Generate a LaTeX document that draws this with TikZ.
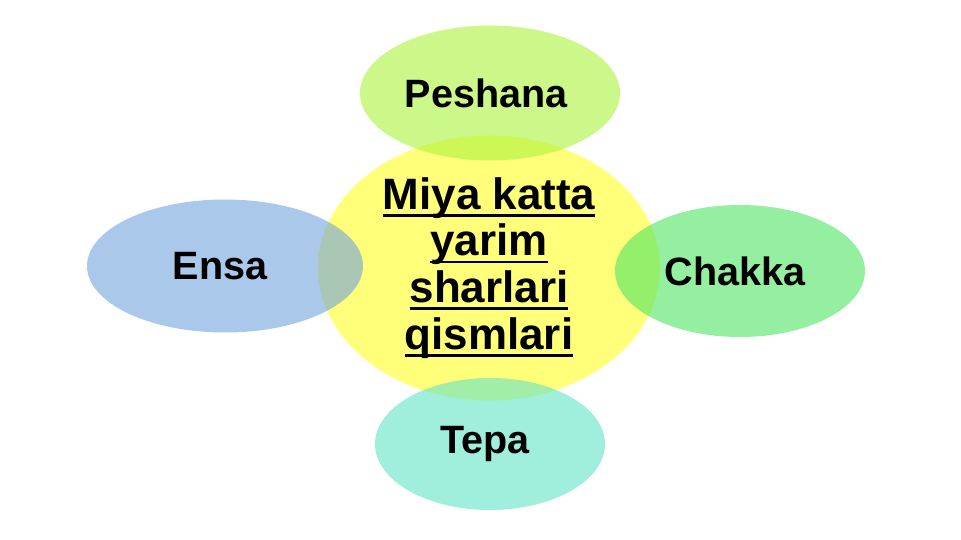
\documentclass[tikz,border=0pt]{standalone}
\usepackage{fontspec}
\setmainfont{Liberation Sans}
\usepackage{tikz}
\usetikzlibrary{shapes.geometric}

\definecolor{brainyellow}{RGB}{255,255,122}
\definecolor{frontgreen}{RGB}{170,243,60}
\definecolor{backblue}{RGB}{112,163,220}
\definecolor{sidegreen}{RGB}{77,230,97}
\definecolor{topteal}{RGB}{97,227,197}

\newcommand{\ulw}[1]{\setbox0\hbox{#1}\rlap{\rule[-4.2pt]{\wd0}{1.6pt}}\box0}

\tikzset{
	lobe/.style={ellipse, inner sep=0pt, fill opacity=0.6, text opacity=1, font=\fontsize{22.5}{26}\selectfont\bfseries},
}

\begin{document}
\begin{tikzpicture}[align=center]
		\useasboundingbox (0,0) rectangle (19.22,-10.8);
		\node (hemisphere) at (9.78,-5.36) [ellipse, inner sep=0pt, fill=brainyellow, minimum width=6.84cm, minimum height=5.3cm, font=\fontsize{25}{26.6}\selectfont\bfseries] {\ulw{Miya katta}\\\ulw{yarim}\\\ulw{sharlari}\\\ulw{qismlari}};
		
		\node (frontal) at (9.8,-1.86) [lobe, fill=frontgreen, minimum width=5.2cm, minimum height=2.7cm] {\hspace*{-0.16cm}Peshana};
		\node (occipital) at (4.5,-5.32) [lobe, fill=backblue, minimum width=5.52cm, minimum height=2.66cm] {\hspace*{-0.2cm}Ensa};
		\node (temporal) at (14.8,-5.42) [lobe, fill=sidegreen, minimum width=5.0cm, minimum height=2.64cm] {\hspace*{-0.2cm}Chakka};
		\node (parietal) at (9.8,-8.88) [lobe, fill=topteal, minimum width=4.6cm, minimum height=2.64cm] {\hspace*{-0.2cm}Tepa};
		
	\end{tikzpicture}
\end{document}
